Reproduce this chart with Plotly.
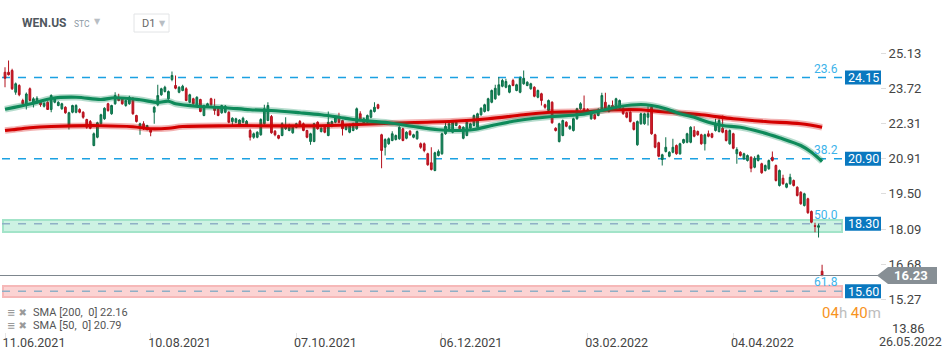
import plotly.graph_objects as go

# ---------------- data ----------------
opens = [24.36,24.36,24.43,23.56,23.83,23.23,23.06,23.70,23.10,23.16,23.16,23.00,23.16,22.87,23.16,23.03,22.90,22.96,22.23,22.76,
         22.76,22.87,22.76,22.47,22.39,21.43,21.76,22.30,22.50,23.10,22.70,23.10,23.36,23.30,23.03,23.10,23.32,22.63,22.16,22.30,
         22.07,22.07,22.76,23.06,23.46,23.59,23.30,24.07,23.83,23.56,23.63,23.70,23.16,23.30,23.03,23.27,22.63,23.00,23.30,22.96,
         22.90,22.74,22.76,22.76,22.39,22.36,22.23,22.36,22.23,22.03,21.76,21.76,21.86,22.30,22.43,22.59,22.00,21.83,21.83,22.10,
         22.03,21.94,22.16,22.39,22.30,22.03,21.59,21.59,22.36,21.99,22.16,21.83,22.20,22.36,22.56,22.43,22.07,21.96,22.03,22.10,
         22.70,22.30,22.36,22.56,22.79,23.06,21.86,21.36,21.50,21.63,21.67,21.70,22.10,21.72,22.00,21.76,21.70,21.50,21.50,21.10,
         20.74,20.43,21.03,21.10,21.90,22.10,21.96,22.23,22.20,21.72,21.83,22.12,22.23,22.16,22.66,22.79,22.83,23.16,23.30,23.46,
         23.80,23.76,23.56,24.03,23.63,23.56,23.90,23.83,23.70,23.76,23.36,23.50,23.06,22.83,23.16,22.12,21.59,21.83,22.36,22.10,
         22.03,22.50,22.90,22.90,22.87,22.50,22.66,22.63,22.83,23.16,22.79,23.03,22.90,22.92,22.92,22.74,22.76,22.34,21.46,22.30,
         22.30,22.56,22.96,21.86,21.54,20.87,21.19,21.00,21.16,21.43,21.10,21.54,21.56,21.56,22.03,21.99,21.86,21.50,21.90,21.90,
         22.03,21.99,22.12,22.03,21.50,21.90,21.10,21.16,20.90,20.83,20.96,20.56,20.83,20.70,20.43,20.50,20.96,20.63,19.83,20.12,
         19.76,19.90,20.03,19.76,19.56,19.03,19.30,18.79,18.22,18.16,16.40]
highs = [24.56,24.83,24.50,23.95,23.88,23.30,23.55,23.75,23.36,23.40,23.22,23.16,23.20,23.48,23.36,23.20,23.14,23.00,22.78,23.06,
         23.08,22.92,22.80,22.50,22.45,21.95,22.38,22.70,22.96,23.14,23.06,23.56,23.50,23.35,23.27,23.42,23.36,22.66,22.34,22.40,
         22.26,22.12,23.00,23.86,23.74,23.82,23.63,24.39,24.23,23.80,23.86,23.76,23.50,23.34,23.40,23.30,23.06,23.14,23.34,23.30,
         22.95,23.06,23.05,22.80,22.56,22.54,22.48,22.58,22.45,22.10,21.95,22.00,22.52,23.06,23.16,22.65,22.05,21.86,22.36,22.56,
         22.30,22.20,22.34,22.45,22.35,22.06,21.94,22.34,22.40,22.16,22.20,22.79,22.43,22.60,22.74,22.46,22.26,22.30,22.34,22.95,
         22.80,22.55,22.67,22.88,23.16,23.10,21.90,21.72,21.75,22.00,21.87,22.20,22.14,22.00,22.05,21.90,22.03,21.55,21.55,21.14,
         21.36,21.18,21.27,21.94,22.36,22.43,22.40,22.40,22.25,22.20,22.40,22.34,22.67,22.74,22.96,23.10,23.34,23.67,23.86,24.16,
         24.10,24.10,23.87,24.10,23.90,24.20,24.43,24.00,23.94,23.80,23.67,23.54,23.10,23.27,23.20,22.16,22.34,22.47,22.40,22.24,
         22.54,22.94,23.16,23.43,22.92,22.83,22.70,22.92,23.54,23.54,23.07,23.23,23.34,23.27,22.96,22.78,22.80,22.38,22.43,22.74,
         22.74,23.00,23.00,21.90,21.58,21.10,21.76,21.20,21.70,21.47,21.54,21.70,21.94,22.20,22.20,22.03,21.90,21.90,22.03,21.94,
         22.50,22.56,22.63,22.07,22.07,21.94,21.36,21.20,21.14,21.07,21.00,21.00,21.08,20.74,20.67,20.87,21.19,20.67,20.47,20.26,
         19.94,20.30,20.07,19.80,19.60,19.54,19.34,18.83,18.34,18.30,16.66]
lows = [23.76,24.23,23.65,23.46,23.40,23.05,22.87,23.20,22.95,23.10,22.98,22.95,22.85,22.76,23.12,23.00,22.86,22.70,22.07,22.72,
        22.72,22.72,22.50,22.10,22.08,21.40,21.72,22.26,22.46,22.78,22.66,23.06,23.20,23.06,22.98,23.06,22.66,22.35,21.86,22.05,
        22.03,21.80,22.30,23.00,23.42,23.55,23.26,24.00,23.68,23.52,23.60,23.20,23.12,23.06,23.00,22.76,22.60,22.96,23.02,22.66,
        22.60,22.70,22.72,22.32,22.23,22.32,22.18,22.32,22.18,21.63,21.70,21.72,21.82,22.26,22.40,21.90,21.80,21.68,21.80,22.05,
        22.00,21.90,22.12,22.20,22.00,21.72,21.46,21.56,22.06,21.95,21.92,21.80,22.16,22.32,22.32,21.83,22.03,21.92,22.00,22.06,
        22.40,22.26,22.32,22.52,22.75,22.88,20.52,21.03,21.46,21.60,21.63,21.66,21.60,21.68,21.82,21.72,21.66,21.30,21.16,20.62,
        20.43,20.40,20.99,21.06,21.86,22.06,21.92,22.20,22.05,21.68,21.80,22.08,22.20,22.12,22.62,22.75,22.79,23.12,23.26,23.42,
        23.76,23.72,23.52,23.80,23.60,23.52,23.86,23.80,23.66,23.36,23.32,23.03,22.90,22.79,22.30,21.99,21.55,21.80,22.16,22.06,
        21.99,22.46,22.86,22.72,22.72,22.46,22.46,22.60,22.79,22.86,22.75,22.86,22.86,22.90,22.66,22.52,22.35,22.03,21.42,22.26,
        22.26,22.23,21.86,21.32,20.96,20.63,21.15,20.96,21.12,21.06,21.06,21.50,21.52,21.52,21.76,21.82,21.46,21.23,21.76,21.72,
        21.99,21.95,21.92,21.59,21.46,21.28,20.70,20.99,20.86,20.79,20.36,20.52,20.79,20.30,20.39,20.46,20.79,19.99,19.79,19.86,
        19.72,19.86,19.79,19.39,19.06,18.99,18.70,18.32,17.96,17.75,16.20]
closes = [24.12,24.26,23.70,23.90,23.46,23.10,23.49,23.23,23.30,23.32,23.06,23.12,22.87,23.43,23.32,23.16,23.10,22.74,22.74,23.03,
          23.03,22.76,22.56,22.16,22.12,21.90,22.34,22.66,22.92,22.83,23.03,23.43,23.23,23.10,23.23,23.36,22.70,22.39,22.30,22.10,
          22.23,21.96,22.96,23.43,23.70,23.76,23.59,24.23,23.72,23.76,23.80,23.23,23.46,23.10,23.36,22.79,23.03,23.10,23.06,22.83,
          22.63,23.03,23.00,22.36,22.52,22.50,22.45,22.52,22.40,21.76,21.90,21.96,22.47,22.90,23.03,21.94,21.86,21.72,22.30,22.23,
          22.16,22.16,22.30,22.23,22.03,21.76,21.90,22.30,22.10,22.12,21.96,22.36,22.39,22.56,22.36,22.10,22.23,22.23,22.30,22.90,
          22.43,22.50,22.63,22.83,22.96,22.92,21.23,21.67,21.70,21.90,21.83,22.16,21.63,21.96,21.86,21.86,21.99,21.36,21.23,20.66,
          20.47,21.14,21.19,21.90,22.20,22.30,22.36,22.36,22.10,22.16,22.36,22.30,22.63,22.70,22.92,23.06,23.30,23.63,23.72,23.86,
          24.03,23.99,23.83,23.83,23.86,24.12,24.12,23.96,23.90,23.40,23.63,23.23,22.96,23.23,22.34,22.03,22.30,22.43,22.20,22.20,
          22.50,22.90,23.10,22.76,22.76,22.79,22.50,22.83,23.43,22.90,23.03,22.90,23.30,23.23,22.70,22.56,22.39,22.07,22.39,22.70,
          22.70,22.70,21.90,21.36,21.00,21.06,21.36,21.16,21.36,21.10,21.50,21.67,21.90,22.16,21.80,21.86,21.50,21.86,21.80,21.76,
          22.30,22.43,21.96,21.63,22.03,21.32,21.27,21.03,21.10,21.03,20.52,20.92,21.03,20.34,20.63,20.83,20.83,20.03,20.43,19.90,
          19.90,20.16,19.83,19.43,19.10,19.50,18.74,18.36,18.20,18.22,16.23]

# moving averages (bar index, value)
sma50_idx = [0, 8, 13, 20, 27, 31, 38, 43, 46, 48, 55, 62, 69, 75, 83, 89, 94, 98, 108, 115, 122, 126, 132, 137,
             143, 149, 154, 162, 168, 173, 179, 182, 186, 190, 194, 198, 202, 207, 213, 218, 224, 227, 230]
sma50_val = [22.88, 23.12, 23.31, 23.36, 23.27, 23.34, 23.26, 23.15, 23.20, 23.10, 22.99, 22.94, 22.86, 22.83, 22.74,
             22.66, 22.56, 22.47, 22.34, 22.19, 22.06, 22.03, 22.07, 22.23, 22.40, 22.52, 22.59, 22.67, 22.83, 22.99,
             23.07, 23.03, 22.90, 22.70, 22.56, 22.36, 22.23, 22.16, 21.96, 21.74, 21.43, 21.16, 20.79]
sma200_idx = [0, 2, 7, 13, 27, 36, 41, 46, 50, 64, 89, 108, 126, 136, 146, 154, 164, 170, 179, 185, 196, 205, 214, 224, 230]
sma200_val = [22.03, 22.06, 22.14, 22.19, 22.22, 22.18, 22.10, 22.12, 22.19, 22.22, 22.22, 22.32, 22.40, 22.50, 22.66,
              22.76, 22.79, 22.85, 22.86, 22.78, 22.66, 22.50, 22.39, 22.30, 22.16]

tick_idx = [0, 41, 82, 123, 164, 205]
tick_dates = ["11.06.2021", "10.08.2021", "07.10.2021", "06.12.2021", "03.02.2022", "04.04.2022"]
price_ticks = [25.13, 23.72, 22.31, 20.91, 19.50, 18.09, 16.68, 15.27]
fib_levels = [24.15, 20.90, 18.30, 15.60]
fib_names = ["23.6", "38.2", "50.0", "61.8"]
last_price = 16.23
sma_legend = ["SMA [200,  0] 22.16", "SMA [50,  0] 20.79"]

# ---------------- geometry helpers ----------------
PLOT_W, TOP, BOTTOM = 880, 38, 332
PLOT_H = BOTTOM - TOP
def px(x):
    return x / PLOT_W
def py(y):
    return (BOTTOM - y) / PLOT_H

FONT = "Roboto, Arial, sans-serif"
x = list(range(len(closes)))

fig = go.Figure()
fig.add_trace(go.Candlestick(
    x=x, open=opens, high=highs, low=lows, close=closes,
    increasing=dict(line=dict(color="#0c6e48", width=1), fillcolor="#178f60"),
    decreasing=dict(line=dict(color="#b3101c", width=1), fillcolor="#d81b2a"),
    whiskerwidth=0, hoverinfo="skip"))

for xi, yv, col, halo in [(sma200_idx, sma200_val, "#d40000", "rgba(212,0,0,0.3)"),
                          (sma50_idx, sma50_val, "#0e8a5a", "rgba(14,138,90,0.3)")]:
    fig.add_trace(go.Scatter(x=xi, y=yv, mode="lines", line=dict(color=halo, width=6.5, shape="spline"),
                             hoverinfo="skip"))
    fig.add_trace(go.Scatter(x=xi, y=yv, mode="lines", line=dict(color=col, width=3.2, shape="spline"),
                             hoverinfo="skip"))

shapes = []
annots = []
# bands
shapes.append(dict(type="rect", xref="paper", yref="y", x0=px(3), x1=px(842), y0=17.97, y1=18.45,
                   fillcolor="#cdf2e3", line=dict(color="#a3e4c9", width=2), layer="below"))
shapes.append(dict(type="rect", xref="paper", yref="y", x0=px(3), x1=px(842), y0=15.37, y1=15.81,
                   fillcolor="#fbd3d3", line=dict(color="#f6b8b8", width=2), layer="below"))
# fib lines, labels, boxes
for lvl, name in zip(fib_levels, fib_names):
    inband = lvl < 19
    shapes.append(dict(type="line", xref="paper", yref="y", x0=px(2), x1=px(843), y0=lvl, y1=lvl,
                       line=dict(color="#8fb0c6" if inband else "#1ba1e2", width=1.3, dash="8px,8px"),
                       layer="below"))
    annots.append(dict(x=px(840), y=lvl, xref="paper", yref="y", xanchor="right", yanchor="middle",
                       yshift=9, text=name, showarrow=False, font=dict(family=FONT, size=12, color="#3cb3ea")))
    shapes.append(dict(type="rect", xref="paper", yref="y", x0=px(845), x1=px(881), y0=lvl - 0.28,
                       y1=lvl + 0.28, fillcolor="#0a78bf", line=dict(width=0)))
    annots.append(dict(x=px(863), y=lvl, xref="paper", yref="y", xanchor="center", yanchor="middle",
                       text=f"{lvl:.2f}", showarrow=False, font=dict(family=FONT, size=12.5, color="white")))
# current price line + arrow label
shapes.append(dict(type="line", xref="paper", yref="y", x0=0, x1=1, y0=last_price, y1=last_price,
                   line=dict(color="#7d868d", width=1)))
h = 0.34
shapes.append(dict(type="path", xref="paper", yref="y",
                   path=f"M {px(877)},{last_price} L {px(888)},{last_price + h} L {px(937)},{last_price + h} "
                        f"L {px(937)},{last_price - h} L {px(888)},{last_price - h} Z",
                   fillcolor="#878f95", line=dict(width=0)))
annots.append(dict(x=px(911), y=last_price, xref="paper", yref="y", xanchor="center", yanchor="middle",
                   text=f"<b>{last_price:.2f}</b>", showarrow=False, font=dict(family=FONT, size=13, color="white")))
# countdown
annots.append(dict(x=px(851), y=py(313), xref="paper", yref="paper", xanchor="center", yanchor="middle",
                   showarrow=False, font=dict(family=FONT, size=15, color="#f7931e"),
                   text="04<span style='color:#bdbdbd'>h</span> 40<span style='color:#bdbdbd'>m</span>"))
# bottom-right corner texts
annots.append(dict(x=px(890), y=py(328), xref="paper", yref="paper", xanchor="left", yanchor="middle",
                   text="13.86", showarrow=False, font=dict(family=FONT, size=13, color="#444")))
annots.append(dict(x=px(877), y=py(341), xref="paper", yref="paper", xanchor="left", yanchor="middle",
                   text="26.05.2022", showarrow=False, font=dict(family=FONT, size=12.5, color="#444")))
# legend rows
for i, txt in enumerate(sma_legend):
    yy = py(312 + 13 * i)
    annots.append(dict(x=px(5), y=yy, xref="paper", yref="paper", xanchor="left", yanchor="middle",
                       text="<b>≡</b> ✖", showarrow=False, font=dict(family="DejaVu Sans", size=10, color="#9a9a9a")))
    annots.append(dict(x=px(31), y=yy, xref="paper", yref="paper", xanchor="left", yanchor="middle",
                       text=txt, showarrow=False, font=dict(family=FONT, size=11, color="#555")))
# header
annots.append(dict(x=px(20), y=py(23), xref="paper", yref="paper", xanchor="left", yanchor="middle",
                   text="<b>WEN.US</b>", showarrow=False, font=dict(family=FONT, size=12, color="#50575e")))
annots.append(dict(x=px(72), y=py(24), xref="paper", yref="paper", xanchor="left", yanchor="middle",
                   text="STC", showarrow=False, font=dict(family=FONT, size=8.5, color="#8d9aa5")))
annots.append(dict(x=px(97), y=py(22), xref="paper", yref="paper", xanchor="center", yanchor="middle",
                   text="▼", showarrow=False, font=dict(family="DejaVu Sans", size=8, color="#b8bec4")))
shapes.append(dict(type="rect", xref="paper", yref="paper", x0=px(134), x1=px(169), y0=py(32), y1=py(14),
                   fillcolor="white", line=dict(color="#e2e4e6", width=1)))
annots.append(dict(x=px(140), y=py(23.5), xref="paper", yref="paper", xanchor="left", yanchor="middle",
                   text="D1", showarrow=False, font=dict(family=FONT, size=11, color="#666")))
annots.append(dict(x=px(162), y=py(23), xref="paper", yref="paper", xanchor="center", yanchor="middle",
                   text="▼", showarrow=False, font=dict(family="DejaVu Sans", size=8, color="#b8bec4")))

fig.update_layout(
    width=949, height=358, margin=dict(l=0, r=949 - PLOT_W, t=TOP, b=358 - BOTTOM),
    plot_bgcolor="white", paper_bgcolor="white", showlegend=False,
    shapes=shapes, annotations=annots,
    xaxis=dict(range=[-1.41, 246.3], rangeslider=dict(visible=False), showgrid=False, zeroline=False,
               showline=False, tickmode="array", tickvals=tick_idx, ticktext=tick_dates, ticks="outside",
               ticklen=5, tickcolor="#e6e6e6", ticklabelshift=29, ticklabelstandoff=-6,
               tickfont=dict(family=FONT, size=12.5, color="#444")),
    yaxis=dict(side="right", range=[13.97, 25.73], showgrid=False, zeroline=False, showline=False,
               tickmode="array", tickvals=price_ticks, ticktext=[f"{v:.2f}" for v in price_ticks],
               ticks="outside", ticklen=5, tickcolor="#dddddd",
               tickfont=dict(family=FONT, size=13, color="#444")),
)
fig.write_html("out.html", config={"displayModeBar": False},
               post_script="document.body.style.margin='0';document.body.style.overflow='hidden';")
